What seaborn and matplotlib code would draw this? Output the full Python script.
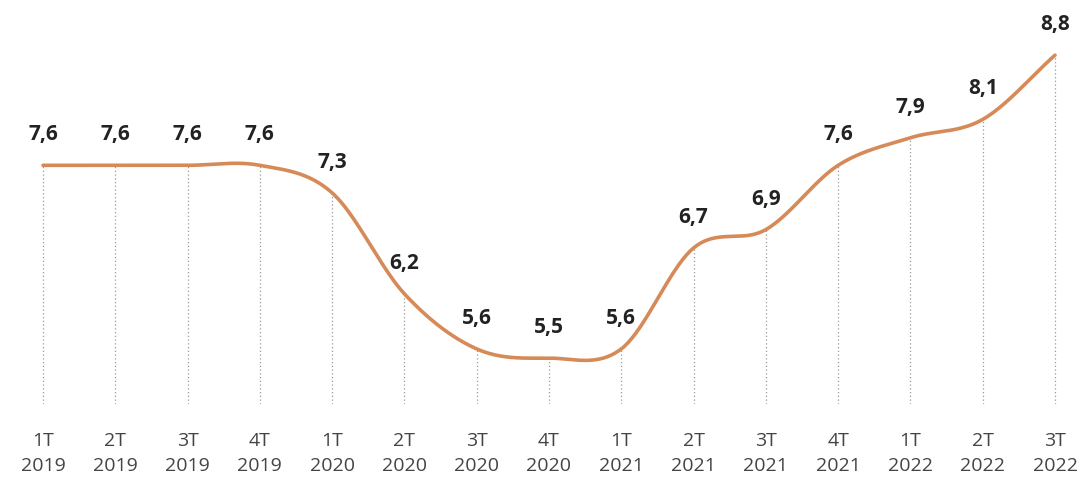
import numpy as np
import pandas as pd
import matplotlib
matplotlib.use("Agg")
import matplotlib.pyplot as plt
import seaborn as sns

quarters = ["1T", "2T", "3T", "4T", "1T", "2T", "3T", "4T",
            "1T", "2T", "3T", "4T", "1T", "2T", "3T"]
years = ["2019", "2019", "2019", "2019", "2020", "2020", "2020", "2020",
         "2021", "2021", "2021", "2021", "2022", "2022", "2022"]
values = [7.6, 7.6, 7.6, 7.6, 7.3, 6.2, 5.6, 5.5,
          5.6, 6.7, 6.9, 7.6, 7.9, 8.1, 8.8]

LINE_COLOR = "#d68a58"


def catmull_rom(y, n=40):
    """Smooth curve through the points (uniform x spacing)"""
    y = np.asarray(y, dtype=float)
    k = len(y)
    m = np.zeros(k)
    m[1:-1] = (y[2:] - y[:-2]) / 2
    m[0] = y[1] - y[0]
    m[-1] = y[-1] - y[-2]
    xs, ys = [], []
    for i in range(k - 1):
        t = np.linspace(0, 1, n, endpoint=False)
        h00 = 2 * t**3 - 3 * t**2 + 1
        h10 = t**3 - 2 * t**2 + t
        h01 = -2 * t**3 + 3 * t**2
        h11 = t**3 - t**2
        xs.append(i + t)
        ys.append(h00 * y[i] + h10 * m[i] + h01 * y[i + 1] + h11 * m[i + 1])
    xs.append([k - 1])
    ys.append([y[-1]])
    return np.concatenate(xs), np.concatenate(ys)


sns.set_theme(style="white")
plt.rcParams["font.family"] = ["Open Sans", "DejaVu Sans"]

df = pd.DataFrame({"x": np.arange(len(values)), "value": values,
                   "label": [q + "\n" + yr for q, yr in zip(quarters, years)]})
sx, sy = catmull_rom(df["value"])
smooth = pd.DataFrame({"x": sx, "value": sy})

# axes bottom sits where the dotted guides end (~404 px from top)
bottom_px = 404
fig = plt.figure(figsize=(10.77, 4.83), dpi=100)
ax = fig.add_axes([0, 1 - bottom_px / 483, 1, bottom_px / 483])

ymin = 5.0
ax.vlines(df["x"], ymin, df["value"], colors="#9a9a9a",
          linestyles=(0, (1, 2)), linewidth=0.9, zorder=1)
sns.lineplot(data=smooth, x="x", y="value", ax=ax, color=LINE_COLOR,
             linewidth=2.6, zorder=3, sort=False)

for x, v in zip(df["x"], df["value"]):
    ax.annotate(f"{v:.1f}".replace(".", ","), (x, v), xytext=(0, 22),
                textcoords="offset points", ha="center", va="center",
                fontsize=15, fontweight="bold", color="#222222")

ax.set_xlim(-43 / 72.29, 14 + 22 / 72.29)
ax.set_ylim(ymin, ymin + bottom_px / 91.8)
ax.set_xticks(df["x"])
ax.set_xticklabels(df["label"], fontsize=14, color="#444444", linespacing=1.5)
ax.tick_params(axis="x", length=0, pad=20.5)
ax.set_yticks([])
ax.set_xlabel("")
ax.set_ylabel("")
sns.despine(ax=ax, left=True, bottom=True)

fig.savefig("out.png", dpi=100)
